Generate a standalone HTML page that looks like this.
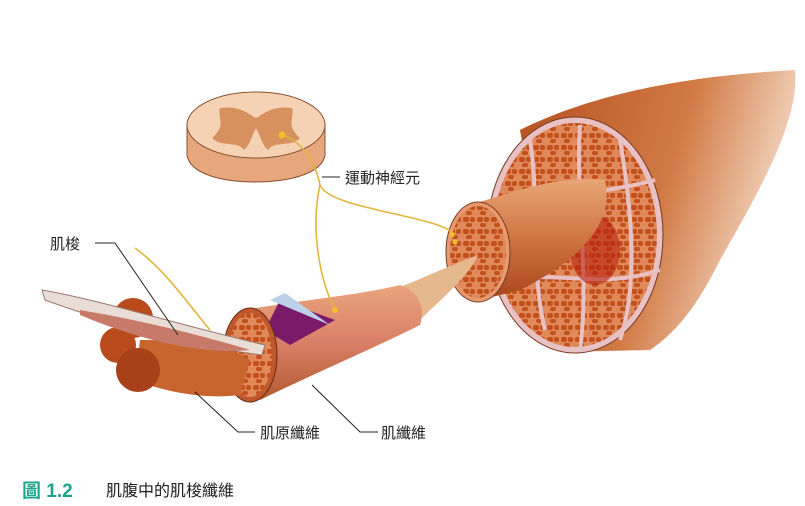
<!DOCTYPE html>
<html><head><meta charset="utf-8"><style>
body{margin:0;background:#fff;width:805px;height:506px;overflow:hidden}
svg{display:block}
text{font-family:"Liberation Sans","Noto Sans CJK TC",sans-serif}
</style></head><body>
<svg width="805" height="506" viewBox="0 0 805 506">
<defs>
<linearGradient id="mus" x1="0" y1="0" x2="1" y2="0.3">
<stop offset="0" stop-color="#b5501f"/><stop offset="0.6" stop-color="#d17a45"/><stop offset="1" stop-color="#f4d9c4"/>
</linearGradient>
<linearGradient id="fas" x1="0" y1="0" x2="0" y2="1">
<stop offset="0" stop-color="#e8a676"/><stop offset="0.5" stop-color="#cf7441"/><stop offset="1" stop-color="#a9461b"/>
</linearGradient>
<linearGradient id="fib" x1="0" y1="0" x2="0" y2="1">
<stop offset="0" stop-color="#eaa57e"/><stop offset="0.5" stop-color="#d98068"/><stop offset="1" stop-color="#b35a2f"/>
</linearGradient>
<pattern id="cells" width="14" height="12" patternUnits="userSpaceOnUse">
<rect width="14" height="12" fill="#e08a5c"/><rect x="1" y="1" width="6" height="5" rx="2" fill="#c4501e"/><rect x="8" y="1" width="5" height="5" rx="2" fill="#c4501e"/><rect x="4" y="7" width="6" height="4" rx="2" fill="#c4501e"/>
</pattern>
</defs>
<!-- big muscle -->
<path d="M520,130 C600,90 700,75 795,70 C800,120 760,190 720,260 C700,300 680,330 650,350 L560,352 Z" fill="url(#mus)"/>
<ellipse cx="575" cy="235" rx="88" ry="118" fill="#e7c1c4" stroke="#7a3a20"/>
<ellipse cx="575" cy="235" rx="82" ry="112" fill="url(#cells)"/>
<g stroke="#e7c1c4" stroke-width="4" fill="none">
<path d="M500,200 C540,190 580,200 655,180"/><path d="M505,280 C560,270 600,290 660,270"/><path d="M580,125 C575,190 590,280 580,350"/><path d="M530,140 C540,200 530,270 545,330"/><path d="M620,140 C630,200 640,280 620,340"/>
</g>
<ellipse cx="595" cy="250" rx="25" ry="35" fill="#b8200e" opacity="0.6"/>
<!-- fascicle -->
<path d="M470,205 C520,190 560,175 605,180 C612,210 600,250 520,290 L480,300 Z" fill="url(#fas)"/>
<ellipse cx="478" cy="252" rx="32" ry="50" fill="#e79a70" stroke="#7a3a20"/>
<ellipse cx="478" cy="252" rx="28" ry="46" fill="url(#cells)"/>
<!-- connector -->
<path d="M380,295 C420,280 450,265 478,255 C470,275 440,300 420,320 Z" fill="#e6b88e"/>
<!-- fiber bundle -->
<path d="M245,310 C300,300 360,295 400,285 C420,290 425,310 420,325 C370,350 300,380 260,400 Z" fill="url(#fib)"/>
<polygon points="265,330 280,300 335,320 290,345" fill="#7c1a6a"/>
<polygon points="270,300 285,293 330,325" fill="#bcd0e8"/>
<ellipse cx="250" cy="355" rx="27" ry="47" fill="#c0582d" stroke="#6a2a10"/>
<ellipse cx="250" cy="355" rx="22" ry="42" fill="url(#cells)"/>
<!-- left bundles -->
<circle cx="133" cy="318" r="20" fill="#b84a1c"/>
<circle cx="118" cy="345" r="18" fill="#b84a1c"/>
<path d="M140,340 C180,340 230,345 250,360 L240,395 C200,400 160,390 135,380 Z" fill="#c8642e"/>
<circle cx="138" cy="370" r="22" fill="#a8401a"/>
<!-- spindle -->
<path d="M42,290 C100,300 180,325 265,345 L262,355 C180,345 100,320 45,300 Z" fill="#e9ddd6" stroke="#9a7a70"/>
<path d="M80,310 C140,320 200,335 250,350 C200,355 140,340 80,315Z" fill="#c87a6a"/>
<!-- spinal cord -->
<path d="M187,125 L187,155 C190,175 225,182 255,182 C285,182 322,175 325,155 L325,125 Z" fill="#e6a77c" stroke="#8a5030"/>
<ellipse cx="256" cy="125" rx="69" ry="33" fill="#f4d2b3" stroke="#8a5030"/>
<path d="M220,108 C240,105 250,115 256,118 C262,115 272,105 292,108 C295,118 285,125 300,138 C290,148 275,140 268,150 C262,145 260,135 256,128 C252,135 250,145 244,150 C237,140 222,148 212,138 C227,125 217,118 220,108Z" fill="#d7915e"/>
<!-- nerves -->
<g stroke="#e3b53a" stroke-width="1.6" fill="none">
<path d="M282,135 C300,140 315,160 320,185 C330,210 440,215 455,235"/>
<path d="M320,185 C310,230 320,280 335,310"/>
<path d="M135,248 C165,270 185,300 210,330"/>
</g>
<circle cx="282" cy="135" r="3.5" fill="#f0c02a"/><circle cx="335" cy="310" r="3" fill="#f0c02a"/>
<circle cx="452" cy="235" r="2.5" fill="#f0c02a"/><circle cx="455" cy="242" r="2.5" fill="#f0c02a"/>
<!-- leaders -->
<g stroke="#222" stroke-width="1" fill="none">
<path d="M322,177 H340"/><path d="M95,243 H115 L178,335"/><path d="M195,392 L238,432 H255"/><path d="M312,385 L360,432 H378"/>
</g>
<g font-size="15" fill="#222">
<text x="345" y="183">運動神經元</text>
<text x="50" y="249">肌梭</text>
<text x="260" y="438">肌原纖維</text>
<text x="381" y="438">肌纖維</text>
</g>
<text x="22" y="497" font-size="19" font-weight="bold" fill="#19a58a">圖 1.2</text>
<text x="106" y="496" font-size="16" fill="#222">肌腹中的肌梭纖維</text>
</svg>
</body></html>
